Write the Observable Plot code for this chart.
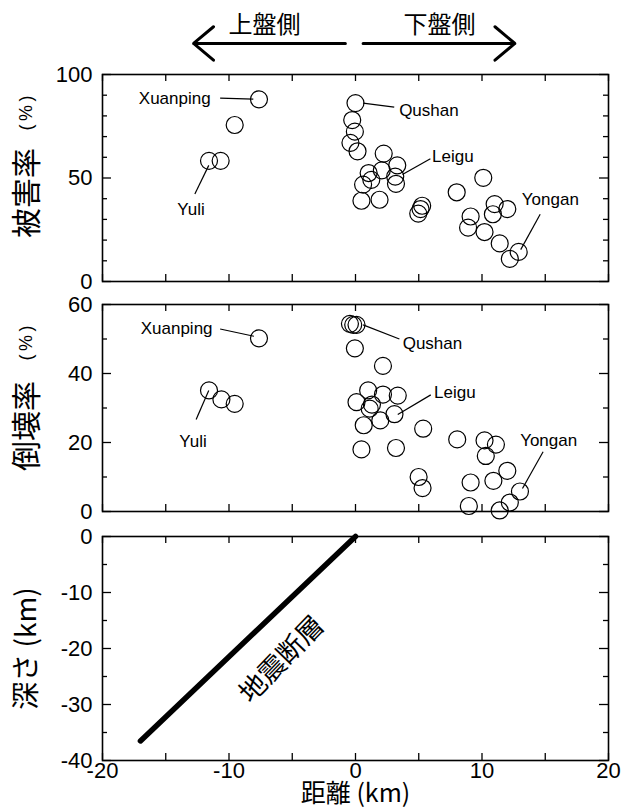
<!DOCTYPE html>
<html><head><meta charset="utf-8">
<script src="https://cdn.jsdelivr.net/npm/d3@7"></script>
<script src="https://cdn.jsdelivr.net/npm/@observablehq/plot@0.6"></script>
<style>body{margin:0;background:#fff;width:625px;height:809px;overflow:hidden} svg{display:block}</style>
</head><body><div id="chart"></div>
<script>
// ---------- data ----------
const damageX = [-7.63, -9.55, -10.66, -11.58,
  0, -0.26, -0.05, -0.4, 0.16, 2.23, 3.3, 1.04, 2.08, 3.14, 1.25, 0.6, 3.2, 0.47, 1.9,
  5.27, 5.14, 4.96, 8.0, 10.1, 11.0, 10.86, 12.0, 9.1, 8.9, 10.2, 11.4, 12.9, 12.2];
const damageRate = [88.0, 75.6, 58.3, 58.3,
  86.2, 78.0, 72.4, 67.0, 62.9, 61.8, 56.1, 52.4, 53.7, 50.7, 49.1, 46.8, 47.2, 39.0, 39.5,
  36.6, 35.0, 32.8, 43.1, 50.1, 37.4, 32.5, 35.0, 31.4, 26.0, 23.9, 18.4, 14.3, 10.9];

const collapseX = [-7.63, -11.58, -10.6, -9.55,
  -0.44, -0.18, 0.08, -0.05, 2.17, 1.0, 2.17, 3.34, 0.08, 1.3, 1.12, 3.08, 0.65, 1.96,
  5.35, 0.47, 3.2, 8.04, 10.2, 11.1, 10.3, 4.99, 5.3, 9.1, 10.9, 12.0, 13.0, 12.2, 8.96, 11.4];
const collapseRate = [50.2, 35.1, 32.5, 31.2,
  54.4, 54.1, 54.1, 47.3, 42.2, 35.1, 33.9, 33.6, 31.7, 31.0, 29.8, 28.2, 25.0, 26.4,
  24.0, 18.0, 18.4, 20.9, 20.6, 19.4, 16.1, 10.0, 6.8, 8.4, 8.9, 11.8, 5.8, 2.6, 1.6, 0.3];

const faultDistance = [0, -17];
const faultDepth = [0, -36.5];
const faultLabel = "地震断層";

const siteNames = ["Xuanping", "Yuli", "Qushan", "Leigu", "Yongan"];
const siteAnchor = ["end", "middle", "start", "start", "middle"];
const damageLabelX = [-11.45, -13.0, 3.45, 6.05, 15.4];
const damageLabelY = [88.6, 35.0, 82.6, 60.5, 39.8];
const damageLeadX1 = [-10.7, -12.7, 0.6, 5.92, 14.6];
const damageLeadY1 = [88.6, 42.3, 86.2, 59.3, 32.5];
const damageLeadX2 = [-8.08, -11.6, 3.06, 3.71, 13.06];
const damageLeadY2 = [88.1, 56.1, 84.2, 51.7, 15.4];
const collapseLabelX = [-11.3, -12.84, 3.73, 6.21, 15.27];
const collapseLabelY = [52.9, 20.2, 48.6, 34.6, 20.6];
const collapseLeadX1 = [-10.7, -12.6, 0.6, 5.95, 14.83];
const collapseLeadY1 = [52.9, 26.7, 54.1, 33.8, 17.3];
const collapseLeadX2 = [-8.03, -11.6, 3.47, 3.34, 13.2];
const collapseLeadY2 = [50.8, 35.1, 50.0, 28.1, 6.65];

const sideLabels = ["上盤側", "下盤側"];
const sideLabelX = [-7.2, 6.64];
const sideArrowFrom = [-0.8, 0.6];
const sideArrowTo = [-12.8, 12.6];

const xTicks = [-20, -10, 0, 10, 20];
const xMinorTicks = [-15, -5, 5, 15];
const damageTicks = [0, 50, 100];
const damageMinor = [10, 20, 30, 40, 60, 70, 80, 90];
const collapseTicks = [0, 20, 40, 60];
const collapseMinor = [10, 30, 50];
const depthTicks = [0, -10, -20, -30, -40];
const depthMinor = [-5, -15, -25, -35];

const damageTitle = ["被害率", "(\u2009%\u2009)"];
const collapseTitle = ["倒壊率", "(\u2009%\u2009)"];
const depthTitle = "深さ (km)";
const xTitle = "距離 (km)";

// ---------- drawing ----------
const W = 625, ML = 102, MR = 17;
const PW = W - ML - MR;
const LATIN = "'Liberation Sans', Arial, sans-serif";
const CJK = "'Noto Sans CJK JP', 'Noto Sans CJK SC', sans-serif";
const TK = {stroke: "black", strokeWidth: 1.3};

function frameMarks(yMajor, yMinor, ph, xLabels) {
  const allX = xTicks.concat(xMinorTicks);
  const marks = [
    Plot.tickY(yMajor, {y: d => d, insetRight: PW - 9, ...TK}),
    Plot.tickY(yMinor, {y: d => d, insetRight: PW - 5, ...TK}),
    Plot.tickY(yMajor, {y: d => d, insetLeft: PW - 9, ...TK}),
    Plot.tickY(yMinor, {y: d => d, insetLeft: PW - 5, ...TK}),
    Plot.tickX(allX, {x: d => d, insetTop: ph - 7, ...TK}),
    Plot.tickX(allX, {x: d => d, insetBottom: ph - 7, ...TK}),
    Plot.frame({stroke: "black", strokeWidth: 1.6}),
    Plot.axisY(yMajor, {anchor: "left", tickSize: 0, tickPadding: 10, fontSize: 22, fontFamily: LATIN,
      tickFormat: d => String(d), label: null})
  ];
  if (xLabels) marks.push(Plot.axisX(xTicks, {anchor: "bottom", tickSize: 0, tickPadding: 2, fontSize: 22,
    fontFamily: LATIN, tickFormat: d => String(d), label: null}));
  return marks;
}

function siteMarks(lx, ly, x1, y1, x2, y2) {
  const labels = siteNames.map((name, i) => ({name, x: lx[i], y: ly[i], anchor: siteAnchor[i]}));
  const leads = siteNames.map((name, i) => ({x1: x1[i], y1: y1[i], x2: x2[i], y2: y2[i]}));
  return [
    Plot.link(leads, {x1: "x1", y1: "y1", x2: "x2", y2: "y2", stroke: "black", strokeWidth: 1.2}),
    ...["start", "middle", "end"].map(a => Plot.text(labels.filter(d => d.anchor === a),
      {x: "x", y: "y", text: "name", textAnchor: a, fontSize: 17, fontFamily: LATIN, fill: "black"}))
  ];
}

function yTitle(parts, big, small, dyBig, dySmall) {
  return [
    Plot.text([parts[0]], {frameAnchor: "left", textAnchor: "middle", lineAnchor: "middle", rotate: -90,
      dx: -75, dy: dyBig, fontSize: big, fontFamily: CJK, fill: "black"}),
    Plot.text([parts[1]], {frameAnchor: "left", textAnchor: "middle", lineAnchor: "middle", rotate: -90,
      dx: -76, dy: dySmall, fontSize: small, fontFamily: LATIN, fill: "black"})
  ];
}

const style = {background: "white", color: "black", fontFamily: LATIN, overflow: "visible"};

// Top panel: damage rate
const panelDamage = Plot.plot({
  width: W, height: 292, marginLeft: ML, marginRight: MR, marginTop: 74, marginBottom: 11,
  x: {domain: [-20, 20], axis: null}, y: {domain: [0, 100], axis: null}, style,
  marks: [
    ...frameMarks(damageTicks, damageMinor, 207, false),
    Plot.dot(damageX.map((x, i) => ({x, y: damageRate[i]})), {x: "x", y: "y", r: 8.5, stroke: "black", strokeWidth: 1.2, fill: "none"}),
    ...siteMarks(damageLabelX, damageLabelY, damageLeadX1, damageLeadY1, damageLeadX2, damageLeadY2),
    ...yTitle(damageTitle, 30, 18, 15, -65),
    Plot.arrow(sideLabels.map((s, i) => ({x1: sideArrowFrom[i], x2: sideArrowTo[i], y: 115})),
      {x1: "x1", x2: "x2", y1: "y", y2: "y", stroke: "black", strokeWidth: 3, headLength: 13, headAngle: 80}),
    Plot.text(sideLabels.map((s, i) => ({s, x: sideLabelX[i], y: 124})),
      {x: "x", y: "y", text: "s", fontSize: 24, fontFamily: CJK, fill: "black"})
  ]
});

// Middle panel: collapse rate
const panelCollapse = Plot.plot({
  width: W, height: 229, marginLeft: ML, marginRight: MR, marginTop: 12, marginBottom: 10,
  x: {domain: [-20, 20], axis: null}, y: {domain: [0, 60], axis: null}, style,
  marks: [
    ...frameMarks(collapseTicks, collapseMinor, 207, false),
    Plot.dot(collapseX.map((x, i) => ({x, y: collapseRate[i]})), {x: "x", y: "y", r: 8.5, stroke: "black", strokeWidth: 1.2, fill: "none"}),
    ...siteMarks(collapseLabelX, collapseLabelY, collapseLeadX1, collapseLeadY1, collapseLeadX2, collapseLeadY2),
    ...yTitle(collapseTitle, 30, 18, 18, -65)
  ]
});

// Bottom panel: fault geometry
const panelFault = Plot.plot({
  width: W, height: 288, marginLeft: ML, marginRight: MR, marginTop: 15, marginBottom: 49,
  x: {domain: [-20, 20], axis: null}, y: {domain: [-40, 0], axis: null}, style,
  marks: [
    ...frameMarks(depthTicks, depthMinor, 224, true),
    Plot.line(faultDistance.map((x, i) => ({x, y: faultDepth[i]})), {x: "x", y: "y", stroke: "black", strokeWidth: 5.5, strokeLinecap: "round"}),
    Plot.text([faultLabel], {x: [-5.8], y: [-22.0], rotate: -46, fontSize: 27, fontFamily: CJK, fill: "black"}),
    Plot.text([depthTitle], {frameAnchor: "left", textAnchor: "middle", lineAnchor: "middle", rotate: -90,
      dx: -75, fontSize: 28, fontFamily: CJK, fill: "black"}),
    Plot.text([xTitle], {frameAnchor: "bottom", textAnchor: "middle", lineAnchor: "middle", dy: 33,
      fontSize: 25, fontFamily: CJK, fill: "black"})
  ]
});

document.getElementById("chart").append(panelDamage, panelCollapse, panelFault);
</script>
</body></html>
